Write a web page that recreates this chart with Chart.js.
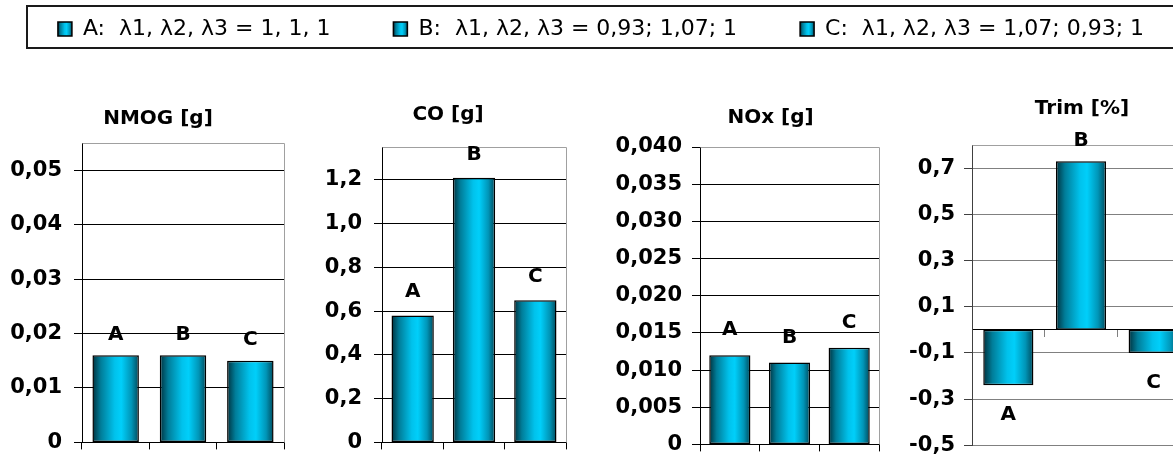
<!DOCTYPE html>
<html><head><meta charset="utf-8">
<script src="https://cdn.jsdelivr.net/npm/chart.js@4.4.1/dist/chart.umd.min.js"></script>
<style>
html,body{margin:0;padding:0;background:#fff;overflow:hidden;width:1173px;height:467px;}
#wrap{position:relative;width:1173px;height:467px;overflow:hidden;background:#fff;}
canvas{position:absolute;}
</style></head><body><div id="wrap">
<canvas id="legend" width="1240" height="220" style="left:-19px;top:-45px"></canvas>
<canvas id="c1" width="316" height="407" style="left:0px;top:60px"></canvas>
<canvas id="c2" width="264" height="407" style="left:316px;top:60px"></canvas>
<canvas id="c3" width="341" height="407" style="left:600px;top:60px"></canvas>
<canvas id="c4" width="364" height="407" style="left:900px;top:60px"></canvas>
</div>
<script>
// ---- data ----
const categories = ['A', 'B', 'C'];
const legendLabels = ['A:  λ1, λ2, λ3 = 1, 1, 1', 'B:  λ1, λ2, λ3 = 0,93; 1,07; 1', 'C:  λ1, λ2, λ3 = 1,07; 0,93; 1'];
const panelTitles = ['NMOG [g]', 'CO [g]', 'NOx [g]', 'Trim [%]'];
const nmogValues = [0.016, 0.016, 0.015];
const coValues = [0.58, 1.21, 0.65];
const noxValues = [0.012, 0.011, 0.013];
const trimValues = [-0.24, 0.73, -0.10];
const nmogTicks = [0, 0.01, 0.02, 0.03, 0.04, 0.05];
const nmogTickLabels = ['0', '0,01', '0,02', '0,03', '0,04', '0,05'];
const coTicks = [0, 0.2, 0.4, 0.6, 0.8, 1.0, 1.2];
const coTickLabels = ['0', '0,2', '0,4', '0,6', '0,8', '1,0', '1,2'];
const noxTicks = [0, 0.005, 0.010, 0.015, 0.020, 0.025, 0.030, 0.035, 0.040];
const noxTickLabels = ['0', '0,005', '0,010', '0,015', '0,020', '0,025', '0,030', '0,035', '0,040'];
const trimTicks = [-0.5, -0.3, -0.1, 0.1, 0.3, 0.5, 0.7];
const trimTickLabels = ['-0,5', '-0,3', '-0,1', '0,1', '0,3', '0,5', '0,7'];
const nmogRange = [0, 0.055];
const coRange = [0, 1.35];
const noxRange = [0, 0.040];
const trimRange = [-0.5, 0.8];

// ---- style ----
const FONT = "'DejaVu Sans'";
const BAR_PCT = 0.69;
const GRAD_STOPS = [[0, '#00313d'], [0.18, '#007d99'], [0.48, '#00c2ec'], [0.62, '#00cffa'], [0.84, '#0095b7'], [1, '#00495b']];
function addStops(g) { GRAD_STOPS.forEach(s => g.addColorStop(s[0], s[1])); return g; }

function barFill(ctx) {
  const chart = ctx.chart;
  const area = chart.chartArea;
  if (ctx.type !== 'data' || !area || !chart.scales.x) return '#00bfe8';
  const xs = chart.scales.x;
  const cx = xs.getPixelForValue(ctx.dataIndex);
  const w = xs.width / chart.data.labels.length * BAR_PCT;
  if (!isFinite(cx) || !isFinite(w)) return '#00bfe8';
  return addStops(chart.ctx.createLinearGradient(cx - w / 2, 0, cx + w / 2, 0));
}

const framePlugin = {
  id: 'frame',
  beforeDatasetsDraw(chart, args, opts) {
    const {left, right, top, bottom} = chart.chartArea;
    const c = chart.ctx;
    const a = p => Math.round(p) + 0.5;
    c.save();
    c.strokeStyle = opts.color;
    c.lineWidth = 1;
    c.beginPath();
    c.moveTo(a(left), a(top));
    c.lineTo(a(right), a(top));
    c.lineTo(a(right), a(bottom));
    c.stroke();
    c.restore();
  }
};

const labelPlugin = {
  id: 'barLabels',
  afterDatasetsDraw(chart, args, opts) {
    const meta = chart.getDatasetMeta(0);
    const vals = chart.data.datasets[0].data;
    const c = chart.ctx;
    const cap = 0.729 * 20;
    c.save();
    c.font = 'bold 20px ' + FONT;
    c.fillStyle = '#000';
    c.textAlign = 'center';
    c.textBaseline = 'alphabetic';
    meta.data.forEach((bar, i) => {
      const txt = chart.data.labels[i];
      if (vals[i] >= 0) c.fillText(txt, bar.x, bar.y - opts.above);
      else c.fillText(txt, bar.x, bar.y + opts.below + cap);
    });
    c.restore();
  }
};

function makePanel(id, title, values, ticks, tickLabels, range, geo, style) {
  new Chart(document.getElementById(id), {
    type: 'bar',
    data: {
      labels: categories,
      datasets: [{
        data: values,
        backgroundColor: barFill,
        borderColor: '#000',
        borderWidth: 1.5,
        borderSkipped: false,
        barPercentage: BAR_PCT,
        categoryPercentage: 1
      }]
    },
    options: {
      responsive: false,
      animation: false,
      events: [],
      layout: {padding: {top: 0, left: 0, right: 0, bottom: geo.padBottom || 0}},
      plugins: {
        legend: {display: false},
        tooltip: {enabled: false},
        title: {
          display: true, text: title, color: '#000',
          font: {family: FONT, size: 20, weight: 'bold', lineHeight: 1.2},
          padding: {top: geo.titleTop, bottom: geo.titleBottom}
        },
        barLabels: {above: geo.gapAbove, below: geo.gapBelow || 0},
        frame: {color: style.frame}
      },
      scales: {
        x: {
          type: 'category',
          position: geo.xAtZero ? {y: 0} : 'bottom',
          offset: true,
          grid: {display: true, offset: true, drawOnChartArea: false, drawTicks: true, tickLength: 7, color: style.xTick},
          border: {display: true, color: '#000', width: 1},
          ticks: {display: false},
          afterFit: s => { s.height = geo.xH || 0; }
        },
        y: {
          type: 'linear',
          position: 'left',
          min: range[0],
          max: range[1],
          afterBuildTicks: s => { s.ticks = ticks.map(v => ({value: v})); },
          grid: {color: style.grid, tickLength: 8, tickColor: style.axis},
          border: {display: true, color: style.axis, width: 1},
          ticks: {
            color: '#000', padding: geo.tickPad, autoSkip: false,
            font: {family: FONT, size: 21, weight: 'bold'},
            callback: (v, i) => tickLabels[i]
          },
          afterFit: s => { s.width = geo.yW; }
        },
        yR: {
          type: 'linear', position: 'right', display: true,
          grid: {display: false}, border: {display: false}, ticks: {display: false},
          afterFit: s => { s.width = geo.rightW; }
        }
      }
    },
    plugins: [framePlugin, labelPlugin]
  });
}

const darkStyle = {grid: '#000', axis: '#000', xTick: '#000', frame: '#a0a0a0'};
const grayStyle = {grid: '#808080', axis: '#404040', xTick: '#808080', frame: '#a0a0a0'};

makePanel('c1', panelTitles[0], nmogValues, nmogTicks, nmogTickLabels, nmogRange,
  {yW: 82, rightW: 32, titleTop: 47, titleBottom: 12, xH: 14, tickPad: 12, gapAbove: 15.5}, darkStyle);
makePanel('c2', panelTitles[1], coValues, coTicks, coTickLabels, coRange,
  {yW: 66, rightW: 14, titleTop: 43, titleBottom: 20, xH: 14, tickPad: 12, gapAbove: 18}, darkStyle);
makePanel('c3', panelTitles[2], noxValues, noxTicks, noxTickLabels, noxRange,
  {yW: 100, rightW: 62, titleTop: 46, titleBottom: 17, xH: 15, tickPad: 10, gapAbove: 20}, darkStyle);
makePanel('c4', panelTitles[3], trimValues, trimTicks, trimTickLabels, trimRange,
  {yW: 72, rightW: 74, titleTop: 37, titleBottom: 24, padBottom: 20, xAtZero: true, tickPad: 9, gapAbove: 15, gapBelow: 20.5}, grayStyle);

// ---- legend ----
const LEGEND_LEFT = -19, LEGEND_TOP = -45;
const legendDeco = {
  id: 'legendDeco',
  beforeDraw(chart) {
    const lg = chart.legend;
    if (!lg || !lg.legendItems) return;
    lg.legendItems.forEach((item, i) => {
      const hb = lg.legendHitBoxes[i];
      if (!hb) return;
      item.fillStyle = addStops(chart.ctx.createLinearGradient(hb.left, 0, hb.left + 14, 0));
    });
  },
  afterDraw(chart) {
    const c = chart.ctx;
    c.save();
    c.strokeStyle = '#1a1a1a';
    c.lineWidth = 2;
    c.strokeRect(27 - LEGEND_LEFT, 6 - LEGEND_TOP, 1250, 42);
    c.restore();
  }
};

new Chart(document.getElementById('legend'), {
  type: 'bar',
  data: {
    labels: [],
    datasets: legendLabels.map(l => ({label: l, data: [], backgroundColor: '#00bfe8', borderColor: '#000', borderWidth: 1.5}))
  },
  options: {
    responsive: false,
    animation: false,
    events: [],
    scales: {x: {display: false}, y: {display: false}},
    plugins: {
      tooltip: {enabled: false},
      title: {display: false},
      legend: {
        display: true, position: 'top', align: 'center',
        labels: {boxWidth: 14, boxHeight: 14, padding: 63, color: '#000', font: {family: FONT, size: 22}}
      }
    }
  },
  plugins: [legendDeco]
});
</script>
</body></html>
